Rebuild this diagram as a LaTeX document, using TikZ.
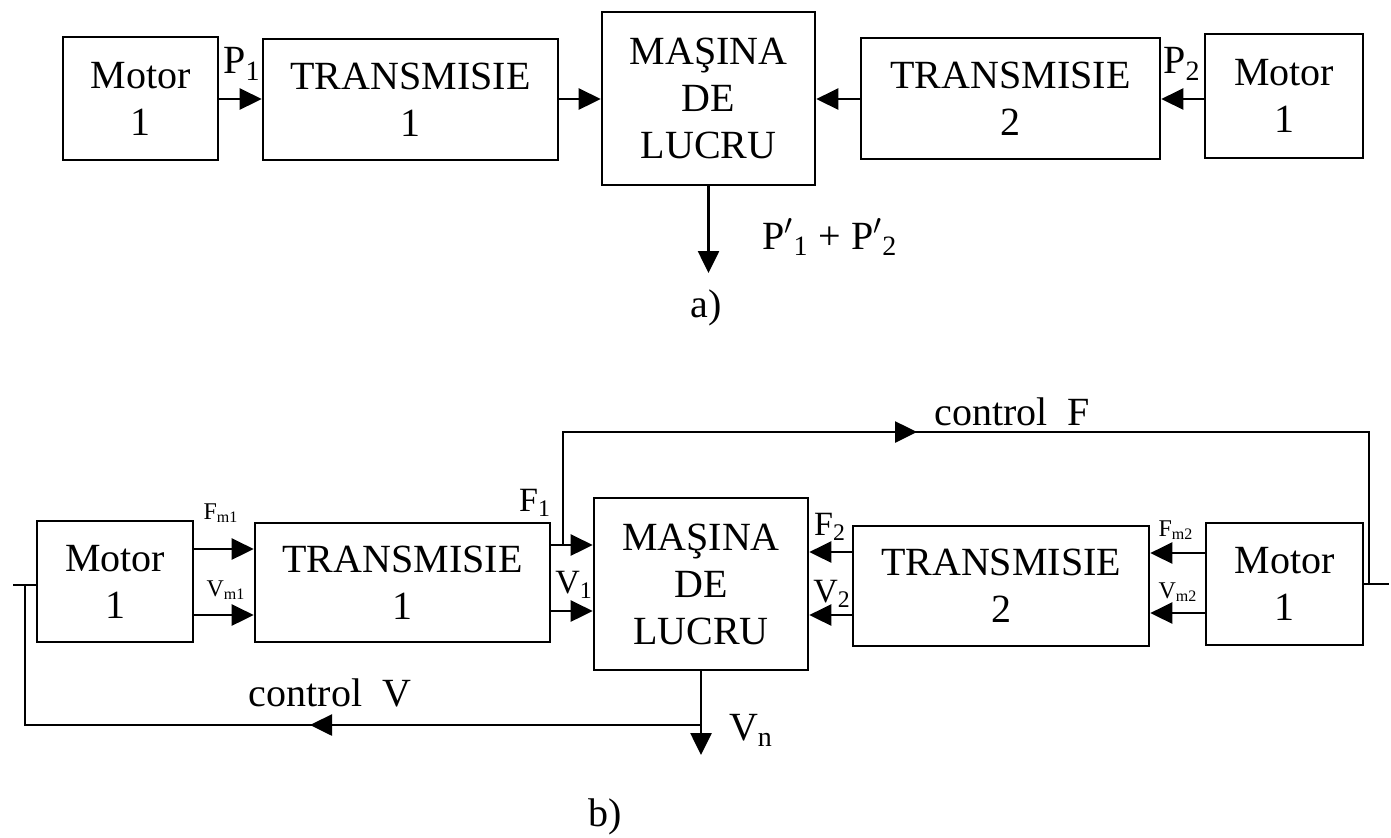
\documentclass[tikz,border=0pt]{standalone}
\usepackage{fontspec}
\setmainfont{Liberation Serif}
\usetikzlibrary{arrows.meta}
\begin{document}
\begin{tikzpicture}[x=0.5pt,y=-0.5pt,
  blk/.style={draw,line width=1.3pt,inner sep=0pt,align=center,font=\fontsize{20}{23.5}\selectfont},
  wh/.style 2 args={minimum width=#1*0.5pt,minimum height=#2*0.5pt},
  arr/.style={line width=1.3pt,-{Triangle[length=11pt,width=10.5pt]}},
  ln/.style={line width=1.3pt},
  lbl/.style={inner sep=0pt,font=\fontsize{20}{24}\selectfont},
  mid/.style={inner sep=0pt,font=\fontsize{17}{20}\selectfont},
  sm/.style={inner sep=0pt,font=\fontsize{12}{14}\selectfont}]
\useasboundingbox (0,0) rectangle (1391,837);

% ---------- a) ----------
\node[blk,wh={155}{123}] (m1a) at (140.5,98.5) {Motor\\1};
\node[blk,wh={295}{121}] (t1a) at (410.5,99.5) {TRANSMISIE\\1};
\node[blk,wh={213}{173}] (ma) at (708.5,98.5) {MAŞINA\\DE\\LUCRU};
\node[blk,wh={299}{121}] (t2a) at (1010.5,98.5) {TRANSMISIE\\2};
\node[blk,wh={158}{124}] (m2a) at (1284,96) {Motor\\1};

\coordinate (ya) at (0,99);
\draw[arr] (m1a.east |- ya) -- (t1a.west |- ya);
\draw[arr] (t1a.east |- ya) -- (ma.west |- ya);
\draw[arr] (t2a.west |- ya) -- (ma.east |- ya);
\draw[arr] (m2a.west |- ya) -- (t2a.east |- ya);
\coordinate (outa) at (708.5,273);
\draw[arr] (ma.south) -- (outa);

\node[lbl] (p1) at (242,64) {P\textsubscript{1}};
\node[lbl] (p2) at (1182,64) {P\textsubscript{2}};
\node[lbl] (pp) at (830,237) {P$'$\textsubscript{1} + P$'$\textsubscript{2}};
\node[lbl] (la) at (706,308) {a)};

% ---------- b) ----------
\node[blk,wh={156}{121}] (m1b) at (115,581.5) {Motor\\1};
\node[blk,wh={295}{119}] (t1b) at (402.5,582.5) {TRANSMISIE\\1};
\node[blk,wh={214}{172}] (mb) at (701,584) {MAŞINA\\DE\\LUCRU};
\node[blk,wh={296}{120}] (t2b) at (1001,586) {TRANSMISIE\\2};
\node[blk,wh={157}{122}] (m2b) at (1284.5,584) {Motor\\1};

\node[sm] (lfm1) at (221,513) {F\textsubscript{m1}};
\node[sm] (lvm1) at (226,590) {V\textsubscript{m1}};
\node[mid] (lf1) at (535,503) {F\textsubscript{1}};
\node[mid] (lv1) at (574,585) {V\textsubscript{1}};
\node[mid] (lf2) at (830,527) {F\textsubscript{2}};
\node[mid] (lv2) at (832,594) {V\textsubscript{2}};
\node[sm] (lfm2) at (1176,530) {F\textsubscript{m2}};
\node[sm] (lvm2) at (1178,592) {V\textsubscript{m2}};
\node[lbl] (lvn) at (751,730) {V\textsubscript{n}};
\node[lbl] (lcf) at (1012,412) {control\ \ F};
\node[lbl] (lcv) at (330,693) {control\ \ V};
\node[lbl] (lb) at (605,817) {b)};

\coordinate (yFm1) at (0,549);
\coordinate (yVm1) at (0,615);
\coordinate (yF1) at (0,545);
\coordinate (yV1) at (0,611);
\coordinate (yF2) at (0,552);
\coordinate (yV2) at (0,615);
\coordinate (yFm2) at (0,553);
\coordinate (yVm2) at (0,613);

\draw[arr] (m1b.east |- yFm1) -- (t1b.west |- yFm1);
\draw[arr] (m1b.east |- yVm1) -- (t1b.west |- yVm1);
\draw[arr] (t1b.east |- yF1) -- (mb.west |- yF1);
\draw[arr] (t1b.east |- yV1) -- (mb.west |- yV1);
\draw[arr] (t2b.west |- yF2) -- (mb.east |- yF2);
\draw[arr] (t2b.west |- yV2) -- (mb.east |- yV2);
\draw[arr] (m2b.west |- yFm2) -- (t2b.east |- yFm2);
\draw[arr] (m2b.west |- yVm2) -- (t2b.east |- yVm2);

% control F loop
\coordinate (cfa) at (563,545);
\coordinate (cfb) at (563,432);
\coordinate (cfc) at (1369,432);
\coordinate (cfd) at (1369,584);
\coordinate (cfe) at (1389,584);
\coordinate (cft) at (917,432);
\draw[ln] (cfa) -- (cfb) -- (cfc) -- (cfd);
\draw[ln] (m2b.east |- cfd) -- (cfe);
\draw[arr] (cfb) -- (cft);

% control V loop
\coordinate (cva) at (13,585);
\coordinate (cvb) at (25,585);
\coordinate (cvc) at (25,725);
\coordinate (cvd) at (701,725);
\coordinate (cvt) at (310,725);
\draw[ln] (cva) -- (m1b.west |- cva);
\draw[ln] (cvb) -- (cvc) -- (cvd);
\draw[arr] (cvd) -- (cvt);

\coordinate (outb) at (701,755);
\draw[arr] (mb.south) -- (outb);
\end{tikzpicture}
\end{document}
